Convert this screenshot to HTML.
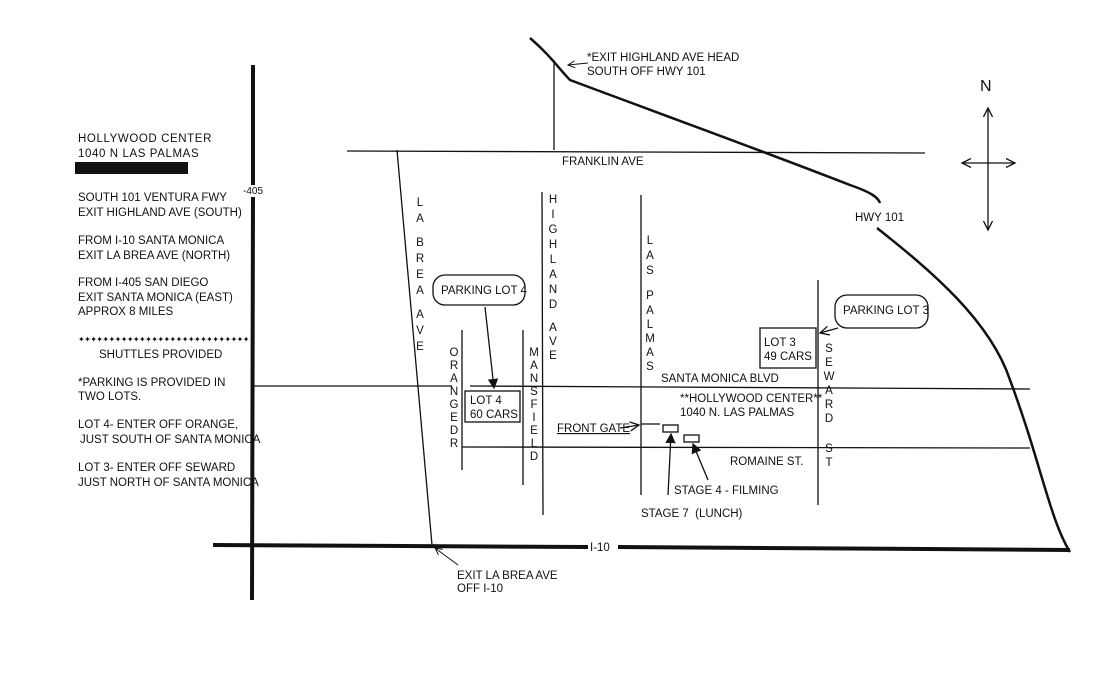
<!DOCTYPE html>
<html><head><style>
body{margin:0;background:#fff}
svg{display:block}
text{font-family:"Liberation Sans",sans-serif;fill:#111}
.s{font-size:11.5px}
.l{font-size:11.5px}
</style></head><body>
<svg width="1114" height="676" viewBox="0 0 1114 676" xmlns="http://www.w3.org/2000/svg">
<defs>
<marker id="a" markerWidth="8" markerHeight="8" refX="7" refY="4" orient="auto-start-reverse"><path d="M0,0 L8,4 L0,8 z" fill="#111"/></marker>
<marker id="o" markerWidth="8" markerHeight="8" refX="7" refY="4" orient="auto-start-reverse"><path d="M0,0.5 L7,4 L0,7.5" fill="none" stroke="#111" stroke-width="1"/></marker>
</defs>
<g stroke="#111" fill="none">
<path d="M253,65 L253,185 M253,197 L252,600" stroke-width="4"/>
<path d="M213,545 L588,547 M618,547 L1070,550" stroke-width="4"/>
<path d="M347,151 L925,153" stroke-width="1.3"/>
<path d="M397,150 L432,545" stroke-width="1.3"/>
<path d="M462,330 L462,470 M523,330 L523,485 M542,192 L543,515 M554,60 L554,150 M641,195 L641,495 M818,280 L818,505" stroke-width="1.3"/>
<path d="M253,386 L452,386 M470,386 L1030,389 M462,447 L1030,448" stroke-width="1.3"/>
<path d="M530,38 C550,55 560,70 570,80 C650,110 760,150 850,185 C870,192 878,197 880,203" stroke-width="2.5"/>
<path d="M877,228 C930,270 990,320 1010,380 C1040,460 1050,520 1070,552" stroke-width="2.5"/>
<path d="M988,108 L988,230" stroke-width="1.3" marker-start="url(#o)" marker-end="url(#o)"/>
<path d="M962,163 L1015,163" stroke-width="1.3" marker-start="url(#o)" marker-end="url(#o)"/>
<rect x="465" y="391" width="55" height="31" stroke-width="1.3"/>
<rect x="760" y="328" width="56" height="40" stroke-width="1.3"/>
<rect x="433" y="275" width="92" height="30" rx="12" stroke-width="1.3"/>
<rect x="835" y="295" width="93" height="33" rx="12" stroke-width="1.3"/>
<rect x="663" y="425" width="15" height="7" stroke-width="1.3"/>
<rect x="684" y="435" width="15" height="7" stroke-width="1.3"/>
<path d="M485,307 L494,388" stroke-width="1.3" marker-end="url(#a)"/>
<path d="M838,328 L820,333" stroke-width="1.3" marker-end="url(#o)"/>
<path d="M620,428 L639,425" stroke-width="1.3" marker-end="url(#o)"/>
<path d="M641,424 L660,424" stroke-width="1.3"/>
<path d="M668,495 L671,434" stroke-width="1.3" marker-end="url(#a)"/>
<path d="M708,480 L693,444" stroke-width="1.3" marker-end="url(#a)"/>
<path d="M588,63 L568,65" stroke-width="1" marker-end="url(#o)"/>
<path d="M458,565 L435,548" stroke-width="1" marker-end="url(#o)"/>
</g>
<rect x="75" y="162" width="113" height="12" fill="#111"/>
<text class="s" x="78" y="142" letter-spacing="0.6">HOLLYWOOD CENTER</text>
<text class="s" x="78" y="157" letter-spacing="0.6">1040 N LAS PALMAS</text>
<text class="s" x="78" y="201">SOUTH 101 VENTURA FWY</text>
<text class="s" x="78" y="216">EXIT HIGHLAND AVE (SOUTH)</text>
<text class="s" x="78" y="244">FROM I-10 SANTA MONICA</text>
<text class="s" x="78" y="259">EXIT LA BREA AVE (NORTH)</text>
<text class="s" x="78" y="286">FROM I-405 SAN DIEGO</text>
<text class="s" x="78" y="301">EXIT SANTA MONICA (EAST)</text>
<text class="s" x="78" y="315">APPROX 8 MILES</text>
<text x="78" y="342" font-size="8" letter-spacing="-0.6">✦✦✦✦✦✦✦✦✦✦✦✦✦✦✦✦✦✦✦✦✦✦✦✦✦✦✦✦</text>
<text class="s" x="99" y="358">SHUTTLES PROVIDED</text>
<text class="s" x="78" y="386">*PARKING IS PROVIDED IN</text>
<text class="s" x="78" y="400">TWO LOTS.</text>
<text class="s" x="78" y="428">LOT 4- ENTER OFF ORANGE,</text>
<text class="s" x="80" y="443">JUST SOUTH OF SANTA MONICA</text>
<text class="s" x="78" y="471">LOT 3- ENTER OFF SEWARD</text>
<text class="s" x="78" y="486">JUST NORTH OF SANTA MONICA</text>
<text x="243" y="194" font-size="10">-405</text>
<text class="s" x="587" y="61">*EXIT HIGHLAND AVE HEAD</text>
<text class="s" x="587" y="75">SOUTH OFF HWY 101</text>
<text class="s" x="562" y="165">FRANKLIN AVE</text>
<text class="s" x="855" y="221">HWY 101</text>
<text x="980" y="91" font-size="16">N</text>
<text class="s" x="441" y="294">PARKING LOT 4</text>
<text class="s" x="843" y="314">PARKING LOT 3</text>
<text class="s" x="470" y="404">LOT 4</text>
<text class="s" x="470" y="418">60 CARS</text>
<text class="s" x="764" y="346">LOT 3</text>
<text class="s" x="764" y="360">49 CARS</text>
<text class="s" x="661" y="382">SANTA MONICA BLVD</text>
<text class="s" x="680" y="402">**HOLLYWOOD CENTER**</text>
<text class="s" x="680" y="416">1040 N. LAS PALMAS</text>
<text class="s" x="557" y="432" text-decoration="underline">FRONT GATE</text>
<text class="s" x="730" y="465">ROMAINE ST.</text>
<text class="s" x="674" y="494">STAGE 4 - FILMING</text>
<text class="s" x="641" y="517">STAGE 7 &#160;(LUNCH)</text>
<text class="s" x="590" y="551">I-10</text>
<text class="s" x="457" y="579">EXIT LA BREA AVE</text>
<text class="s" x="457" y="592">OFF I-10</text>
<g class="l" text-anchor="middle">
<text x="420" y="206">L</text><text x="420" y="222">A</text><text x="420" y="246">B</text><text x="420" y="262">R</text><text x="420" y="278">E</text><text x="420" y="294">A</text><text x="420" y="318">A</text><text x="420" y="334">V</text><text x="420" y="350">E</text>
<text x="454" y="356">O</text><text x="454" y="369">R</text><text x="454" y="382">A</text><text x="454" y="395">N</text><text x="454" y="408">G</text><text x="454" y="421">E</text><text x="454" y="434">D</text><text x="454" y="447">R</text>
<text x="534" y="356">M</text><text x="534" y="369">A</text><text x="534" y="382">N</text><text x="534" y="395">S</text><text x="534" y="408">F</text><text x="534" y="421">I</text><text x="534" y="434">E</text><text x="534" y="447">L</text><text x="534" y="460">D</text>
<text x="553" y="203">H</text><text x="553" y="218">I</text><text x="553" y="233">G</text><text x="553" y="248">H</text><text x="553" y="263">L</text><text x="553" y="278">A</text><text x="553" y="293">N</text><text x="553" y="308">D</text><text x="553" y="331">A</text><text x="553" y="345">V</text><text x="553" y="359">E</text>
<text x="650" y="244">L</text><text x="650" y="259">A</text><text x="650" y="274">S</text><text x="650" y="299">P</text><text x="650" y="314">A</text><text x="650" y="328">L</text><text x="650" y="342">M</text><text x="650" y="356">A</text><text x="650" y="370">S</text>
<text x="829" y="352">S</text><text x="829" y="366">E</text><text x="829" y="380">W</text><text x="829" y="394">A</text><text x="829" y="408">R</text><text x="829" y="422">D</text><text x="829" y="452">S</text><text x="829" y="466">T</text>
</g>
</svg>
</body></html>
